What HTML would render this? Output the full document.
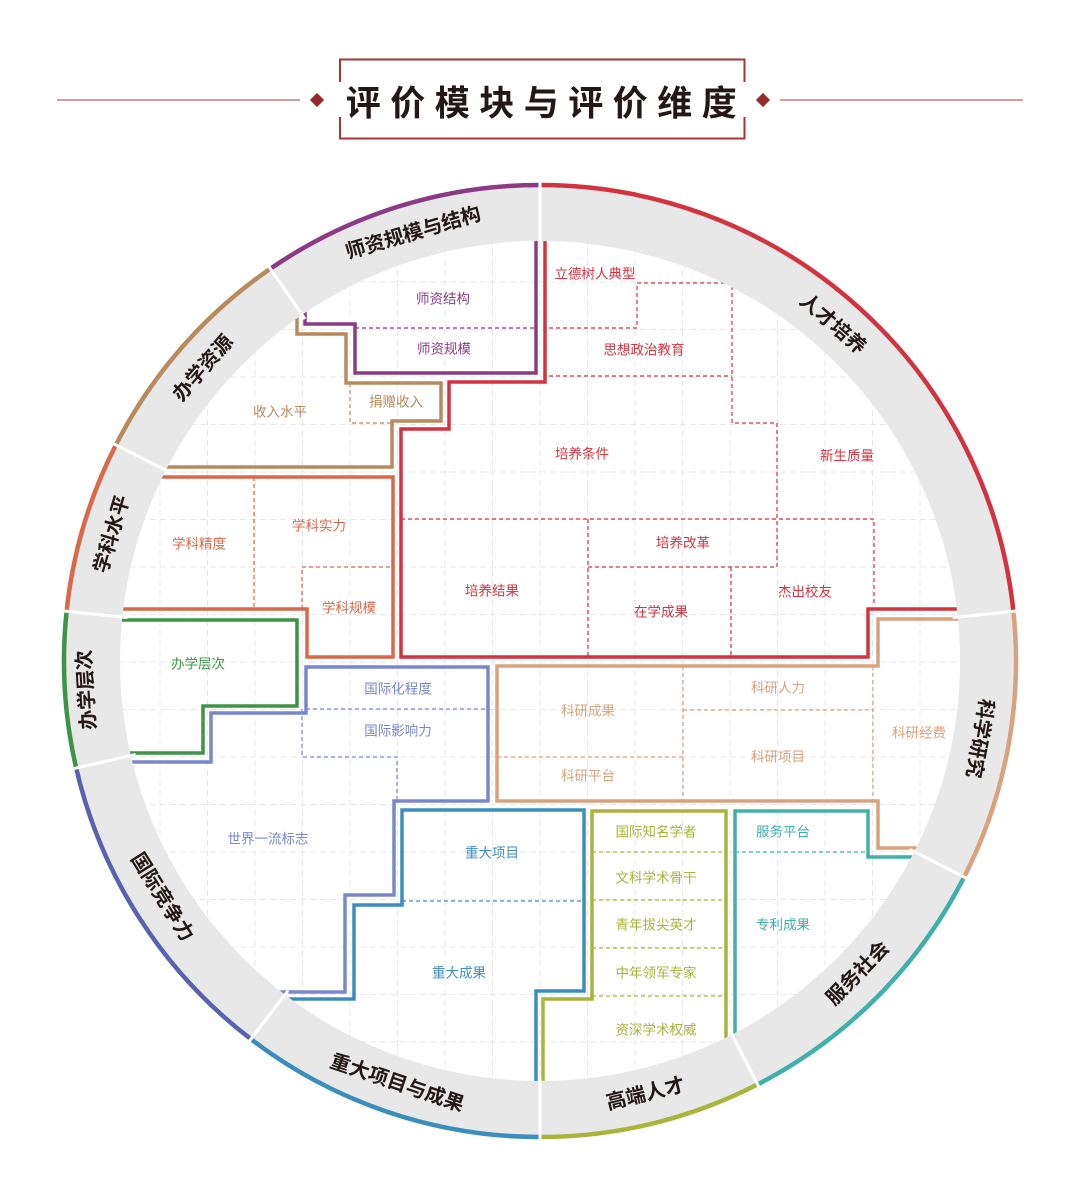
<!DOCTYPE html>
<html><head><meta charset="utf-8"><style>
html,body{margin:0;padding:0;background:#fff;width:1080px;height:1195px;overflow:hidden}
svg{display:block}
text{font-family:"Liberation Sans","Noto Sans CJK SC",sans-serif}
.l{font-size:13.5px;text-anchor:middle;dominant-baseline:central}
.r{font-size:20px;font-weight:bold;fill:#231815;text-anchor:middle;dominant-baseline:central}
.g line{stroke:#e8e8e8;stroke-width:1;stroke-dasharray:6 4}
.o{fill:none;stroke-width:3.5;stroke-linejoin:miter}
.d{fill:none;stroke-width:1.2;stroke-dasharray:4 3}
</style></head><body>
<svg width="1080" height="1195" viewBox="0 0 1080 1195" xmlns="http://www.w3.org/2000/svg">
<defs><clipPath id="c"><circle cx="540" cy="661" r="421"/></clipPath></defs>
<!-- title -->
<line x1="57" y1="100" x2="300" y2="100" stroke="#a04040" stroke-width="1"/>
<line x1="780" y1="100" x2="1023" y2="100" stroke="#a04040" stroke-width="1"/>
<rect x="312" y="95" width="10" height="10" fill="#9a2a2a" transform="rotate(45 317 100)"/>
<rect x="758" y="95" width="10" height="10" fill="#9a2a2a" transform="rotate(45 763 100)"/>
<path d="M340 82 V59.5 H744.5 V82 M744.5 117 V138.5 H340 V117" fill="none" stroke="#a33636" stroke-width="2"/>
<text x="546" y="101" font-size="35" font-weight="bold" fill="#231815" text-anchor="middle" dominant-baseline="central" letter-spacing="9.5" style="font-family:'Noto Sans CJK SC',sans-serif">评价模块与评价维度</text>

<g clip-path="url(#c)">
<g class="g">
<line x1="112.5" y1="180" x2="112.5" y2="1140"/><line x1="160" y1="180" x2="160" y2="1140"/><line x1="207.5" y1="180" x2="207.5" y2="1140"/><line x1="255" y1="180" x2="255" y2="1140"/><line x1="302.5" y1="180" x2="302.5" y2="1140"/><line x1="350" y1="180" x2="350" y2="1140"/><line x1="397.5" y1="180" x2="397.5" y2="1140"/><line x1="445" y1="180" x2="445" y2="1140"/><line x1="492.5" y1="180" x2="492.5" y2="1140"/><line x1="540" y1="180" x2="540" y2="1140"/><line x1="587.5" y1="180" x2="587.5" y2="1140"/><line x1="635" y1="180" x2="635" y2="1140"/><line x1="682.5" y1="180" x2="682.5" y2="1140"/><line x1="730" y1="180" x2="730" y2="1140"/><line x1="777.5" y1="180" x2="777.5" y2="1140"/><line x1="825" y1="180" x2="825" y2="1140"/><line x1="872.5" y1="180" x2="872.5" y2="1140"/><line x1="920" y1="180" x2="920" y2="1140"/><line x1="967.5" y1="180" x2="967.5" y2="1140"/>
<line y1="234.5" x1="100" y2="234.5" x2="1000"/><line y1="282" x1="100" y2="282" x2="1000"/><line y1="329.5" x1="100" y2="329.5" x2="1000"/><line y1="377" x1="100" y2="377" x2="1000"/><line y1="424.5" x1="100" y2="424.5" x2="1000"/><line y1="472" x1="100" y2="472" x2="1000"/><line y1="519.5" x1="100" y2="519.5" x2="1000"/><line y1="567" x1="100" y2="567" x2="1000"/><line y1="614.5" x1="100" y2="614.5" x2="1000"/><line y1="662" x1="100" y2="662" x2="1000"/><line y1="709.5" x1="100" y2="709.5" x2="1000"/><line y1="757" x1="100" y2="757" x2="1000"/><line y1="804.5" x1="100" y2="804.5" x2="1000"/><line y1="852" x1="100" y2="852" x2="1000"/><line y1="899.5" x1="100" y2="899.5" x2="1000"/><line y1="947" x1="100" y2="947" x2="1000"/><line y1="994.5" x1="100" y2="994.5" x2="1000"/><line y1="1042" x1="100" y2="1042" x2="1000"/><line y1="1089.5" x1="100" y2="1089.5" x2="1000"/>
</g>

<path class="o" stroke="#8b3a86" d="M305 300 V324 H355 V373 H536 V220"/>
<path class="d" stroke="#8b3a86" d="M355 328 H536"/>
<path class="o" stroke="#d2333f" d="M545 220 V382 H449 V429 H401 V657 H868 V609 H990"/>
<path class="d" stroke="#d2333f" d="M549 328 H637 V283 H732 V423 H777 V567 M549 376 H732 M401 519 H874 V603 M588 519 V657 M588 567 H777 M731 567 V657"/>
<path class="o" stroke="#b98a5c" d="M297 300 V334 H346 V383 H441 V421 H392 V467 H100"/>
<path class="d" stroke="#b98a5c" d="M350 383 V423 H392"/>
<path class="o" stroke="#d9694a" d="M100 477 H393 V657 H307 V609 H100"/>
<path class="d" stroke="#d9694a" d="M254 477 V609 M302 609 V567 H393"/>
<path class="o" stroke="#3d9445" d="M100 620 H297 V706 H203 V753 H100"/>
<path class="o" stroke="#7a86cc" d="M100 762 H211 V713 H306 V667 H488 V801 H394 V895 H345 V992 H240"/>
<path class="d" stroke="#7a86cc" d="M306 709 H488 M302 709 V757 H397 V801"/>
<path class="o" stroke="#3b8dbd" d="M250 999 H354 V905 H402 V810 H584 V991 H536 V1140"/>
<path class="d" stroke="#3b8dbd" d="M402 901 H584"/>
<path class="o" stroke="#a9b43a" d="M543 1140 V999 H592 V811 H726 V1140"/>
<path class="d" stroke="#a9b43a" d="M592 852 H726 M592 900 H726 M592 948 H726 M592 996 H726"/>
<path class="o" stroke="#3fb0aa" d="M735 1140 V811 H868 V857 H990"/>
<path class="d" stroke="#3fb0aa" d="M735 852 H868"/>
<path class="o" stroke="#d9a27c" d="M990 619 H878 V666 H497 V801 H878 V848 H990"/>
<path class="d" stroke="#d9a27c" d="M683 666 V801 M683 710 H873 M873 666 V801 M497 757 H683"/>
</g>

<path d="M540 187 A474 474 0 1 1 539.9 187 Z M540 241 A420 420 0 1 0 540.1 241 Z" fill="#e8e8e8" fill-rule="evenodd"/>
<g fill="none" stroke-width="4.5">
<path stroke="#d2333f" d="M540 185 A476 476 0 0 1 1013.4 611.3"/>
<path stroke="#d9a27c" d="M1013.4 611.3 A476 476 0 0 1 964.1 877.1"/>
<path stroke="#3fb0aa" d="M964.1 877.1 A476 476 0 0 1 757.6 1084.4"/>
<path stroke="#a9b43a" d="M757.6 1084.4 A476 476 0 0 1 540 1137"/>
<path stroke="#3b8dbd" d="M540 1137 A476 476 0 0 1 250.9 1039.1"/>
<path stroke="#5a62b0" d="M250.9 1039.1 A476 476 0 0 1 76.2 768.1"/>
<path stroke="#3d9445" d="M76.2 768.1 A476 476 0 0 1 66.6 611.3"/>
<path stroke="#d9694a" d="M66.6 611.3 A476 476 0 0 1 115.9 444.9"/>
<path stroke="#b98a5c" d="M115.9 444.9 A476 476 0 0 1 270.4 268.7"/>
<path stroke="#8b3a86" d="M270.4 268.7 A476 476 0 0 1 540 185"/>
</g>
<g stroke="#fff" stroke-width="3">
<line x1="540" y1="244" x2="540" y2="179"/>
<line x1="952.7" y1="617.6" x2="1019.4" y2="610.6"/>
<line x1="909.8" y1="849.4" x2="969.5" y2="879.8"/>
<line x1="729.7" y1="1030.1" x2="760.3" y2="1089.7"/>
<line x1="540" y1="1078" x2="540" y2="1143"/>
<line x1="288.1" y1="990.7" x2="247.2" y2="1043.9"/>
<line x1="135.6" y1="754.4" x2="70.3" y2="769.4"/>
<line x1="127.3" y1="617.6" x2="60.6" y2="610.6"/>
<line x1="170.2" y1="472.6" x2="110.5" y2="442.2"/>
<line x1="305.0" y1="319.0" x2="267.0" y2="263.8"/>
</g>
<text class="r" transform="translate(413.3 233.4) rotate(-16.5)">师资规模与结构</text>
<text class="r" transform="translate(203.4 368.4) rotate(-49)">办学资源</text>
<text class="r" transform="translate(112.4 534.3) rotate(-73.5)">学科水平</text>
<text class="r" transform="translate(87 689.8) rotate(-93.7)">办学层次</text>
<text class="r" transform="translate(161.8 897.3) rotate(58)">国际竞争力</text>
<text class="r" transform="translate(397 1083.5) rotate(18.7)">重大项目与成果</text>
<text class="r" transform="translate(645.6 1094.3) rotate(-13.7)">高端人才</text>
<text class="r" transform="translate(858.1 973.6) rotate(-45.5)">服务社会</text>
<text class="r" transform="translate(979.2 738.4) rotate(100)">科学研究</text>
<text class="r" transform="translate(832.6 324.4) rotate(41)">人才培养</text>

<g class="l" fill="#8b3a86"><text x="443" y="299">师资结构</text><text x="444" y="349">师资规模</text></g>
<g class="l" fill="#d2333f"><text x="595" y="274">立德树人典型</text><text x="644" y="350">思想政治教育</text><text x="582" y="454">培养条件</text><text x="847" y="456">新生质量</text><text x="683" y="543">培养改革</text><text x="492" y="591">培养结果</text><text x="661" y="612">在学成果</text><text x="805" y="592">杰出校友</text></g>
<g class="l" fill="#b98a5c"><text x="396" y="402">捐赠收入</text><text x="280" y="412">收入水平</text></g>
<g class="l" fill="#d9694a"><text x="199" y="544">学科精度</text><text x="319" y="526">学科实力</text><text x="349" y="608">学科规模</text></g>
<g class="l" fill="#3d9445"><text x="198" y="664">办学层次</text></g>
<g class="l" fill="#7a86cc"><text x="398" y="689">国际化程度</text><text x="398" y="731">国际影响力</text><text x="268" y="839">世界一流标志</text></g>
<g class="l" fill="#3b8dbd"><text x="492" y="853">重大项目</text><text x="459" y="973">重大成果</text></g>
<g class="l" fill="#a9b43a"><text x="656" y="832">国际知名学者</text><text x="656" y="878">文科学术骨干</text><text x="656" y="925">青年拔尖英才</text><text x="656" y="973">中年领军专家</text><text x="656" y="1030">资深学术权威</text></g>
<g class="l" fill="#3fb0aa"><text x="783" y="832">服务平台</text><text x="783" y="925">专利成果</text></g>
<g class="l" fill="#d9a27c"><text x="588" y="711">科研成果</text><text x="778" y="688">科研人力</text><text x="778" y="757">科研项目</text><text x="588" y="776">科研平台</text><text x="919" y="733">科研经费</text></g>
</svg>
</body></html>
